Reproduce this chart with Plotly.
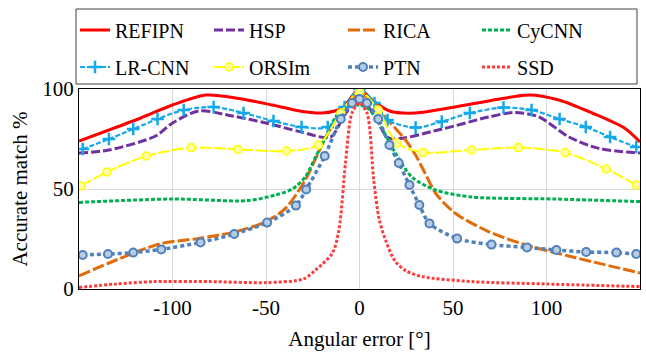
import plotly.graph_objects as go

# ---- data ----
refipn_x = [-150, -134, -117, -100, -82, -64.5, -46.7, -32, -20, -9.5, 0, 6.7, 16, 30, 51, 69, 90.5, 106.6, 124.4, 142, 150]
refipn_y = [74, 79.5, 85.5, 92, 97, 95.3, 92, 89, 88, 90.3, 100, 94.5, 89, 88, 91, 94, 97, 94.5, 88, 80.3, 73.5]

hsp_x = [-150, -134, -109, -100, -86, -68, -50, -32, -15.5, -8, 0, 8, 15.7, 42, 69, 83, 96, 112, 128, 150]
hsp_y = [68, 69.5, 76.5, 83, 89, 86.5, 83, 78.7, 76, 87, 95, 87, 75.5, 79.5, 86, 88.3, 86, 76, 70.3, 68]

rica_x = [-150, -134, -107, -86, -66, -50, -39.6, -29, -18, -8, 0, 6.8, 12, 24.6, 30, 35, 40.6, 51, 69, 89, 114, 150]
rica_y = [6.5, 13, 22.5, 25.3, 28.7, 33.7, 40.3, 54.5, 76, 91, 97, 94.5, 88, 74.5, 67, 58, 48, 38, 28.7, 22, 16, 8]

cycnn_x = [-150, -100, -60, -45, -36, -29, -23.5, -18, -12.8, -7.5, 0, 5, 10.3, 19.2, 28, 40.6, 60, 104, 150]
cycnn_y = [43.3, 45, 44.2, 47, 50, 56, 66, 76, 86, 91, 92, 90, 83, 68, 56, 49.5, 46, 45, 43.7]

lrcnn_x = [-148, -134, -121, -108, -94, -78, -62, -46, -31, -17, -8, 0, 8, 15, 30, 44, 59, 77, 92, 107, 121, 134, 148]
lrcnn_y = [70, 75, 80, 85, 89.5, 91, 88, 84, 81, 81, 91, 100, 93, 84.5, 80.7, 83.7, 88, 90.7, 89.5, 85, 81, 76, 71]

orsim_x = [-149, -135, -114, -90, -65, -39, -22, -10, 0, 10, 20, 34, 60, 85, 110, 132, 148]
orsim_y = [51.5, 58.5, 66.5, 70.7, 69.8, 69, 72, 88, 99, 89.5, 73, 68.3, 69.5, 70.7, 68.2, 60, 52]

ptn_x = [-148, -134.5, -121, -106, -85, -67, -49.4, -34, -28.5, -18.6, -10, -4, 0, 4, 10, 16, 21, 26.7, 32, 37.4, 52.2, 70.6, 89.6, 105.3, 121.2, 137.4, 148]
ptn_y = [17, 17.5, 18.2, 19.8, 23.3, 27.5, 33.2, 41.7, 49.8, 66.5, 85, 93, 95, 93, 85, 72, 63, 52, 42, 32.8, 25.2, 22.2, 20.8, 19.5, 18.5, 18.2, 17.5]

ssd_x = [-150, -130, -110, -80, -50, -30, -23.5, -14.6, -11, -7.5, -4, 0, 4, 7.6, 10.5, 13.9, 19.2, 25, 33.5, 60, 100, 150]
ssd_y = [0.8, 2.5, 3.7, 3.7, 3.2, 5, 9.5, 17.8, 29.5, 63, 88, 93, 88, 54.5, 35, 24.5, 13.7, 9, 6.2, 3.7, 2.5, 1.2]

x_ticks = [-100, -50, 0, 50, 100]
y_ticks = [0, 50, 100]

FONT = "serif"
fig = go.Figure()

def add(name, xs, ys, color, width, dash, legend, marker=None):
    kw = dict(x=xs, y=ys, name=name, legend=legend,
              line=dict(color=color, width=width, dash=dash, shape="spline", smoothing=0.8))
    if marker:
        kw["mode"] = "lines+markers"
        kw["marker"] = marker
    else:
        kw["mode"] = "lines"
    fig.add_trace(go.Scatter(**kw))

add("REFIPN", refipn_x, refipn_y, "#FF0000", 3, "solid", "legend")
add("HSP", hsp_x, hsp_y, "#7030A0", 3, "9px,3px", "legend")
add("RICA", rica_x, rica_y, "#E36C0A", 3, "12px,3px", "legend")
add("CyCNN", cycnn_x, cycnn_y, "#00B050", 3, "4px,2px", "legend")
add("LR-CNN", lrcnn_x, lrcnn_y, "#14A8EC", 2.2, "5px,2px", "legend2",
    marker=dict(symbol="cross-thin", size=9, line=dict(color="#14A8EC", width=2.5)))
add("ORSIm", orsim_x, orsim_y, "#FFFF00", 2, "12px,2px", "legend2",
    marker=dict(symbol="circle", size=8, color="#FFFFA0", line=dict(color="#FFFF00", width=1.5)))
add("PTN", ptn_x, ptn_y, "#4F81BD", 3.5, "4px,3px", "legend2",
    marker=dict(symbol="circle", size=8, color="#B8CCE4", line=dict(color="#4F81BD", width=2)))
add("SSD", ssd_x, ssd_y, "#FF3B3B", 3, "3px,2px", "legend2")

W, H = 646, 354
L, R, T, B = 79, 5, 89, 65
pw, ph = W - L - R, H - T - B

def px(xp):
    return (xp - L) / pw

def py(yp):
    return (H - B - yp) / ph

leg_common = dict(orientation="h", xanchor="left", yanchor="middle",
                  font=dict(family=FONT, size=20, color="black"),
                  bgcolor="rgba(0,0,0,0)", borderwidth=0,
                  entrywidth=89, entrywidthmode="pixels",
                  traceorder="normal")

fig.update_layout(
    width=W, height=H,
    margin=dict(l=L, r=R, t=T, b=B),
    paper_bgcolor="white", plot_bgcolor="white",
    font=dict(family=FONT, size=20, color="black"),
    legend=dict(x=px(75), y=py(30), **leg_common),
    legend2=dict(x=px(75), y=py(67), **leg_common),
    shapes=[dict(type="rect", xref="paper", yref="paper",
                 x0=px(76), x1=px(638), y0=py(84), y1=py(9),
                 line=dict(color="#404040", width=1), fillcolor="rgba(0,0,0,0)")],
)
fig.update_xaxes(range=[-150, 150], tickvals=x_ticks, ticktext=[str(v) for v in x_ticks],
                 showgrid=True, gridcolor="#D9D9D9", gridwidth=1, zeroline=False,
                 showline=True, linecolor="black", linewidth=1, mirror=True,
                 ticks="", tickfont=dict(family=FONT, size=21, color="black"),
                 title=dict(text="Angular error [°]", font=dict(family=FONT, size=21, color="black"), standoff=12))
fig.update_yaxes(range=[0, 100], tickvals=y_ticks, ticktext=[str(v) for v in y_ticks],
                 showgrid=True, gridcolor="#D9D9D9", gridwidth=1, zeroline=False,
                 showline=True, linecolor="black", linewidth=1, mirror=True,
                 ticks="", tickfont=dict(family=FONT, size=21, color="black"),
                 title=dict(text="Accurate match %", font=dict(family=FONT, size=21, color="black"), standoff=8))

fig.write_html(
    "out.html",
    post_script="if (document.fonts) { document.fonts.ready.then(function(){ var gd = document.getElementById('{plot_id}'); if (gd && window.Plotly) { Plotly.redraw(gd); } }); }",
)
